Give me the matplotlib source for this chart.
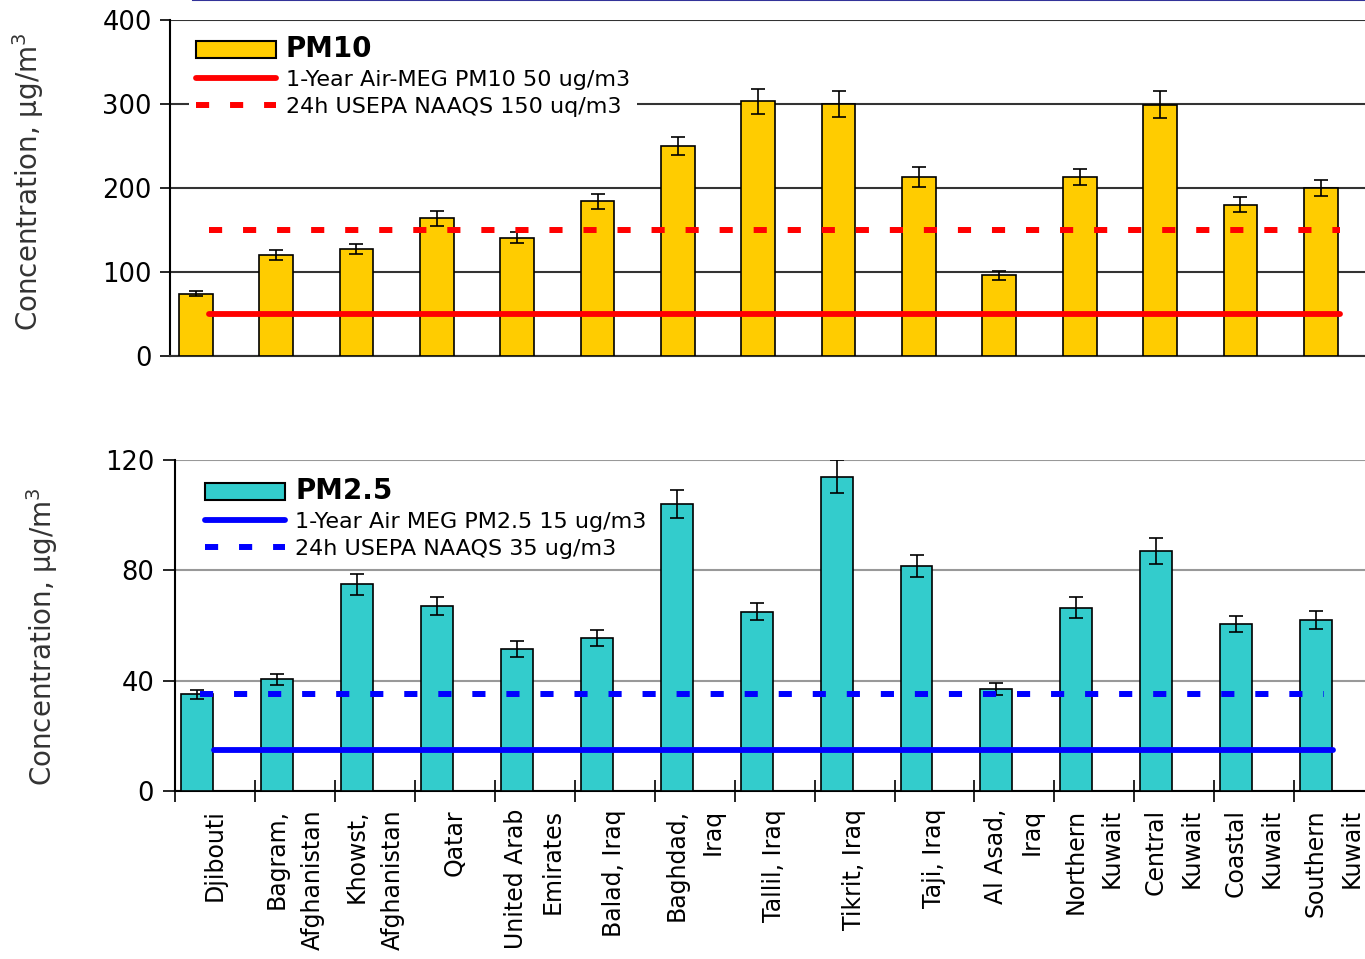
import numpy as np
import matplotlib.pyplot as plt
from matplotlib.lines import Line2D
from matplotlib.patches import Patch

# sites
sites = ["Djibouti", "Bagram,\nAfghanistan", "Khowst,\nAfghanistan", "Qatar",
         "United Arab\nEmirates", "Balad, Iraq", "Baghdad,\nIraq", "Tallil, Iraq",
         "Tikrit, Iraq", "Taji, Iraq", "Al Asad,\nIraq", "Northern\nKuwait",
         "Central\nKuwait", "Coastal\nKuwait", "Southern\nKuwait"]

# PM10 mean and error
pm10 = [74, 120, 127, 164, 141, 184, 250, 303, 300, 213, 96, 213, 299, 180, 200]
pm10_err = [3, 6, 6, 9, 7, 9, 11, 15, 16, 12, 5, 10, 16, 9, 10]

# PM2.5 mean and error
pm25 = [35, 40.5, 75, 67, 51.5, 55.5, 104, 65, 114, 81.5, 37, 66.5, 87, 60.5, 62]
pm25_err = [1.5, 2, 3.8, 3.2, 2.8, 2.9, 5.2, 3, 6, 4, 2.2, 3.8, 4.8, 2.9, 3.1]

# guideline values
pm10_meg = 50
pm10_naaqs = 150
pm25_meg = 15
pm25_naaqs = 35

x = np.arange(len(sites))

fig = plt.figure(figsize=(13.65, 9.59), dpi=100)
plt.rcParams['font.family'] = ['DejaVu Sans']

# thin slide line at top
fig.add_artist(Line2D([193/1365, 1], [0.9995, 0.9995], transform=fig.transFigure,
                      color='#333399', lw=1.5))

ax1 = fig.add_axes([170/1365, 603/959, 1 - 170/1365, 336/959])
ax2 = fig.add_axes([175/1365, 168/959, 1 - 175/1365, 331/959])

dash = (2.2, 3.5)

# ---- top: PM10 ----
ax1.bar(x, pm10, width=0.42, color='#FFCC00', edgecolor='black', linewidth=1.2, zorder=3)
ax1.errorbar(x, pm10, yerr=pm10_err, fmt='none', ecolor='black', elinewidth=1.2,
             capsize=5, capthick=1.2, zorder=4)
ax1.plot([x[0] + 0.17, x[-1] + 0.24], [pm10_meg, pm10_meg], color='red', lw=4.2,
         solid_capstyle='round', zorder=5)
ax1.plot([x[0] + 0.17, x[-1] + 0.24], [pm10_naaqs, pm10_naaqs], color='red', lw=4.3,
         linestyle=(0, dash), zorder=5)
ax1.set_xlim(-0.32, 14.55)
ax1.set_ylim(0, 400)
ax1.set_yticks([0, 100, 200, 300, 400])
ax1.yaxis.grid(True, color='#333333', lw=1.5, zorder=0)
ax1.set_xticks([])
for s in ['top', 'right']:
    ax1.spines[s].set_visible(False)
ax1.spines['left'].set_linewidth(1.5)
ax1.spines['bottom'].set_linewidth(1.5)
ax1.spines['bottom'].set_color('#333333')
ax1.tick_params(axis='y', labelsize=18.5, length=7, width=1.2, pad=6)
ax1.set_ylabel('Concentration, µg/m$^3$', fontsize=20, color='#333333')
ax1.yaxis.set_label_coords(-0.104, 0.52)

h1 = [Patch(facecolor='#FFCC00', edgecolor='black', linewidth=1.5),
      Line2D([], [], color='red', lw=4.2, solid_capstyle='round'),
      Line2D([], [], color='red', lw=4.3, linestyle=(0, dash))]
leg1 = ax1.legend(h1, ['PM10', '1-Year Air-MEG PM10 50 ug/m3', '24h USEPA NAAQS 150 uq/m3'],
                  loc='upper left', bbox_to_anchor=(0.016, 0.975), fontsize=16,
                  frameon=True, facecolor='white', edgecolor='none', framealpha=1,
                  handlelength=3.6, handleheight=0.8, handletextpad=0.45,
                  labelspacing=0.3, borderpad=0.3, borderaxespad=0)
leg1.get_frame().set_boxstyle('square', pad=0)
leg1.get_texts()[0].set_fontsize(20)
leg1.get_texts()[0].set_fontweight('bold')
leg1.set_zorder(6)

# ---- bottom: PM2.5 ----
ax2.bar(x, pm25, width=0.40, color='#33CCCC', edgecolor='black', linewidth=1.2, zorder=3)
ax2.errorbar(x, pm25, yerr=pm25_err, fmt='none', ecolor='black', elinewidth=1.2,
             capsize=5, capthick=1.2, zorder=4)
ax2.plot([x[0] + 0.21, x[-1] + 0.21], [pm25_meg, pm25_meg], color='blue', lw=4.2,
         solid_capstyle='round', zorder=5)
ax2.plot([x[0] + 0.04, x[-1] + 0.1], [pm25_naaqs, pm25_naaqs], color='blue', lw=4.3,
         linestyle=(0, dash), zorder=5)
ax2.set_xlim(-0.275, 14.61)
ax2.set_ylim(0, 120)
ax2.set_yticks([0, 40, 80, 120])
ax2.yaxis.grid(True, color='#999999', lw=1.5, zorder=0)
ax2.set_xticks(x + 0.22)
ax2.set_xticklabels(sites, rotation=90, fontsize=17, multialignment='right',
                    linespacing=1.62)
ax2.set_xticks(x - 0.275, minor=True)
ax2.tick_params(axis='x', which='major', length=0, pad=13)
ax2.tick_params(axis='x', which='minor', direction='inout', length=16, width=1.2)
for s in ['top', 'right']:
    ax2.spines[s].set_visible(False)
ax2.spines['left'].set_linewidth(1.5)
ax2.spines['bottom'].set_linewidth(1.5)
ax2.tick_params(axis='y', labelsize=18.5, length=9, width=1.2, pad=6)
ax2.set_ylabel('Concentration, µg/m$^3$', fontsize=20, color='#333333')
ax2.yaxis.set_label_coords(-0.097, 0.465)

h2 = [Patch(facecolor='#33CCCC', edgecolor='black', linewidth=1.5),
      Line2D([], [], color='blue', lw=4.2, solid_capstyle='round'),
      Line2D([], [], color='blue', lw=4.3, linestyle=(0, dash))]
leg2 = ax2.legend(h2, ['PM2.5', '1-Year Air MEG PM2.5 15 ug/m3', '24h USEPA NAAQS 35 ug/m3'],
                  loc='upper left', bbox_to_anchor=(0.02, 0.968), fontsize=16,
                  frameon=False, handlelength=3.6, handleheight=0.8, handletextpad=0.45,
                  labelspacing=0.3, borderpad=0.3, borderaxespad=0)
leg2.get_texts()[0].set_fontsize(20)
leg2.get_texts()[0].set_fontweight('bold')

plt.savefig('out.png', dpi=100)
